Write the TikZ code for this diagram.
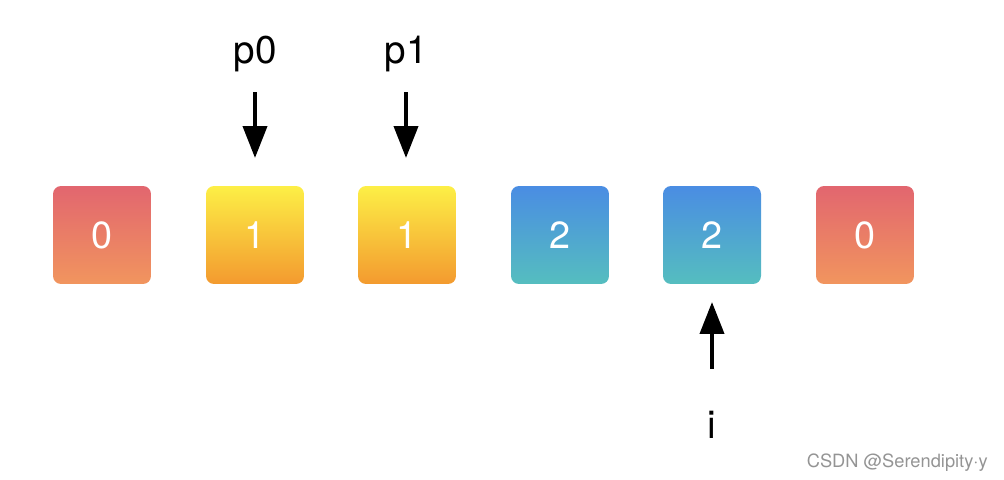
\documentclass[tikz,border=0pt]{standalone}
\usepackage{fontspec}
\setmainfont{TeX Gyre Heros}
\usetikzlibrary{arrows.meta}
\definecolor{redtop}{HTML}{E2666F}
\definecolor{redbot}{HTML}{F1955E}
\definecolor{yeltop}{HTML}{FDEF46}
\definecolor{yelbot}{HTML}{F39A2F}
\definecolor{blutop}{HTML}{4A8DE3}
\definecolor{blubot}{HTML}{55BEBF}
\begin{document}
\begin{tikzpicture}[x=0.02cm, y=-0.02cm,
  cell/.style={rectangle, rounded corners=8*0.02cm, minimum size=1.96cm, inner sep=0, outer sep=0,
    text=white, font=\fontsize{21.5}{26}\selectfont},
  redcell/.style={cell, top color=redtop, bottom color=redbot},
  yelcell/.style={cell, top color=yeltop, bottom color=yelbot},
  blucell/.style={cell, top color=blutop, bottom color=blubot},
  lbl/.style={inner sep=0, outer sep=0, font=\fontsize{22}{26}\selectfont},
  ptr/.style={line width=0.8mm, -{Triangle[length=6.4mm,width=4.8mm]}}]
\useasboundingbox (0,0) rectangle (1004,480);
\node[redcell] (box0) at (102,235){0};
\node[yelcell] (box1) at (255,235){1};
\node[yelcell] (box2) at (407,235){1};
\node[blucell] (box3) at (560,235){2};
\node[blucell] (box4) at (712,235){2};
\node[redcell] (box5) at (865,235){0};
\node[lbl, anchor=base] (p0) at (255,63){p0};
\node[lbl, anchor=base] (p1) at (406,63){p1};
\node[lbl, anchor=base] (i) at (712,438){i};
\draw[ptr, shorten <=21*0.02cm, shorten >=28*0.02cm](p0.south) -- (p0.south |- box1.north);
\draw[ptr, shorten <=21*0.02cm, shorten >=28*0.02cm](p1.south) -- (p1.south |- box2.north);
\draw[ptr, shorten <=42*0.02cm, shorten >=18*0.02cm](i.north) -- (box4.south);
\node[inner sep=0, anchor=base east, text=black!42, font=\fontsize{10.4}{12}\selectfont] (mark) at (988,467){CSDN @Serendipity·y};
\end{tikzpicture}
\end{document}
